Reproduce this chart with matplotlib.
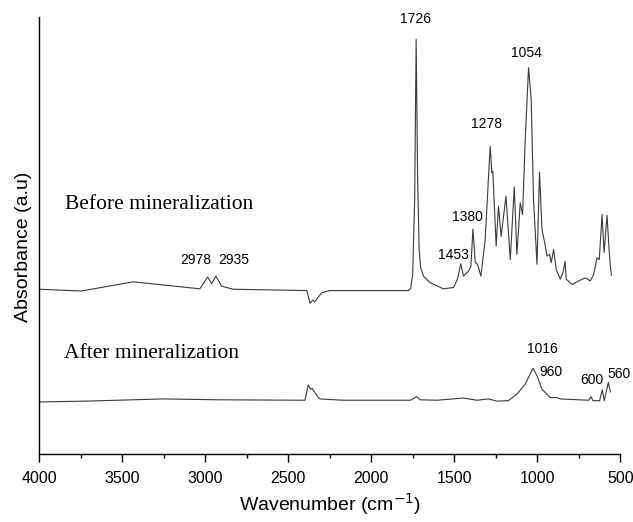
#!/usr/bin/env python3
"""FTIR spectra before and after mineralization."""

import matplotlib

matplotlib.use("Agg")
import matplotlib.pyplot as plt

# wavenumber (cm-1) / absorbance (a.u.)
BEFORE_WN = [
    4000, 3746, 3435, 3033, 2986, 2962, 2936, 2902, 2832, 2389, 2369, 2353, 2341,
    2299, 2249, 1777, 1763, 1751, 1739, 1730, 1721, 1712, 1703, 1686, 1646, 1566,
    1505, 1481, 1461, 1445, 1415, 1400, 1388, 1374, 1360, 1340, 1314, 1294, 1284,
    1274, 1268, 1248, 1234, 1218, 1189, 1163, 1139, 1123, 1103, 1089, 1073, 1053,
    1037, 1023, 1002, 987, 972, 952, 942, 926, 916, 902, 886, 862, 846, 833, 826,
    791, 752, 711, 681, 661, 640, 627, 610, 598, 580, 568, 560, 554,
]
BEFORE_ABS = [
    0.377, 0.373, 0.394, 0.378, 0.405, 0.390, 0.407, 0.384, 0.377, 0.374, 0.345,
    0.352, 0.348, 0.369, 0.374, 0.374, 0.379, 0.411, 0.582, 0.949, 0.628, 0.468,
    0.427, 0.407, 0.392, 0.378, 0.381, 0.400, 0.435, 0.407, 0.418, 0.430, 0.515,
    0.438, 0.434, 0.407, 0.491, 0.635, 0.704, 0.643, 0.647, 0.476, 0.567, 0.498,
    0.590, 0.445, 0.611, 0.457, 0.575, 0.548, 0.719, 0.884, 0.811, 0.582, 0.434,
    0.645, 0.514, 0.476, 0.453, 0.457, 0.438, 0.468, 0.422, 0.400, 0.415, 0.441,
    0.400, 0.388, 0.396, 0.403, 0.396, 0.411, 0.449, 0.445, 0.548, 0.461, 0.546,
    0.468, 0.430, 0.409,
]

AFTER_WN = [
    4000, 3716, 3254, 2912, 2400, 2380, 2365, 2356, 2319, 2309, 2169, 1766, 1726,
    1706, 1605, 1445, 1364, 1294, 1244, 1174, 1123, 1073, 1026, 1002, 972, 922,
    882, 862, 691, 677, 665, 625, 609, 597, 572, 560,
]
AFTER_ABS = [
    0.119, 0.121, 0.126, 0.124, 0.123, 0.158, 0.148, 0.150, 0.129, 0.126, 0.123,
    0.123, 0.131, 0.124, 0.123, 0.128, 0.123, 0.126, 0.121, 0.122, 0.137, 0.160,
    0.196, 0.179, 0.148, 0.129, 0.129, 0.126, 0.123, 0.131, 0.122, 0.122, 0.147,
    0.122, 0.164, 0.142,
]

PEAK_LABELS = ["1726", "1054", "1278", "1380", "1453", "2978", "2935",
               "1016", "960", "600", "560"]
# label anchors (wavenumber, absorbance)
PEAK_LABEL_WN = [1736, 1063, 1304, 1421, 1505, 3057, 2826, 972, 918, 671, 510]
PEAK_LABEL_ABS = [0.995, 0.917, 0.755, 0.543, 0.456, 0.443, 0.443,
                  0.240, 0.187, 0.170, 0.184]

SERIES_NAMES = ["Before mineralization", "After mineralization"]

LINE_COLOR = "#3a3a3a"


def main() -> None:
    plt.rcParams.update({
        "font.family": ["Liberation Sans", "DejaVu Sans"],
        "axes.linewidth": 1.0,
    })
    fig = plt.figure(figsize=(6.33, 5.22), dpi=100)
    ax = fig.add_axes([0.0621, 0.1303, 0.9179, 0.8371])

    ax.plot(BEFORE_WN, BEFORE_ABS, color=LINE_COLOR, linewidth=0.8)
    ax.plot(AFTER_WN, AFTER_ABS, color=LINE_COLOR, linewidth=0.8)

    for label, wn, a in zip(PEAK_LABELS, PEAK_LABEL_WN, PEAK_LABEL_ABS):
        ax.text(wn, a, label, ha="center", va="center", fontsize=10)

    serif = ["Liberation Serif", "DejaVu Serif"]
    ax.text(3845, 0.570, SERIES_NAMES[0], family=serif, fontsize=15.5,
            ha="left", va="center")
    ax.text(3850, 0.231, SERIES_NAMES[1], family=serif, fontsize=15.5,
            ha="left", va="center")

    ax.set_xlim(4000, 500)
    ax.set_ylim(0, 1)
    ax.set_xticks([4000, 3500, 3000, 2500, 2000, 1500, 1000, 500])
    ax.set_xticks([3750, 3250, 2750, 2250, 1750, 1250, 750], minor=True)
    ax.set_yticks([])
    ax.tick_params(axis="x", which="major", direction="out", length=6, width=1.0,
                   labelsize=11.5, pad=6)
    ax.tick_params(axis="x", which="minor", direction="out", length=3, width=1.0)
    ax.spines["top"].set_visible(False)
    ax.spines["right"].set_visible(False)

    ax.set_xlabel("Wavenumber (cm$^{-1}$)", fontsize=14, labelpad=4)
    ax.set_ylabel("Absorbance (a.u)", fontsize=14)
    ax.yaxis.set_label_coords(-0.012, 0.474)

    fig.savefig("out.png", dpi=100, facecolor="white")
    plt.close(fig)


if __name__ == "__main__":
    main()
